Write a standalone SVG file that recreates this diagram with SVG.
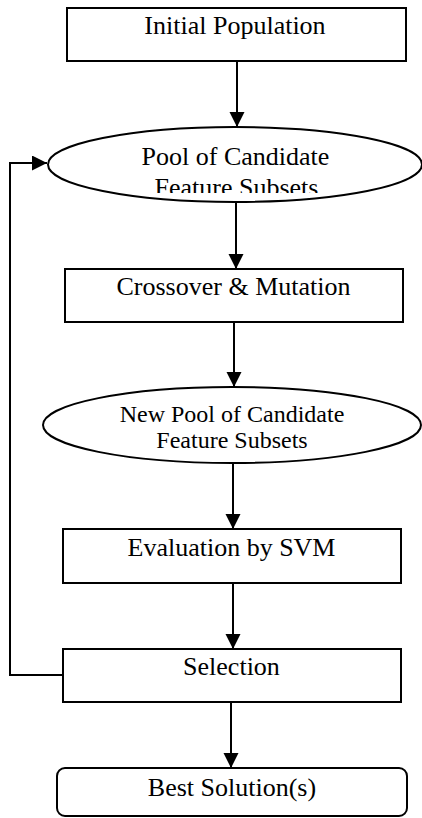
<svg xmlns="http://www.w3.org/2000/svg" width="422" height="818" viewBox="0 0 422 818">
  <style>
    .box { fill: #ffffff; stroke: #000000; stroke-width: 2; }
    .lbl { font-family: "Liberation Serif", "Times New Roman", serif; fill: #000000; text-anchor: middle; }
    .big { font-size: 26px; }
    .small { font-size: 24px; }
    .wire { fill: none; stroke: #000000; stroke-width: 2; }
  </style>
  <defs>
    <marker id="arrow" markerUnits="userSpaceOnUse" markerWidth="16" markerHeight="16" refX="15" refY="7.5" orient="auto">
      <path d="M0,0 L15,7.5 L0,15 Z" fill="#000000"/>
    </marker>
    <clipPath id="poolClip">
      <rect x="0" y="130" width="422" height="63"/>
    </clipPath>
  </defs>

  <g id="connectors">
    <line class="wire" x1="237" y1="61" x2="237" y2="127" marker-end="url(#arrow)"/>
    <line class="wire" x1="236" y1="202" x2="236" y2="269" marker-end="url(#arrow)"/>
    <line class="wire" x1="234" y1="322" x2="234" y2="387" marker-end="url(#arrow)"/>
    <line class="wire" x1="233" y1="463" x2="233" y2="529" marker-end="url(#arrow)"/>
    <line class="wire" x1="233" y1="583" x2="233" y2="649" marker-end="url(#arrow)"/>
    <line class="wire" x1="231" y1="702" x2="231" y2="768" marker-end="url(#arrow)"/>
    <path class="wire" d="M63,675 H10 V163 H47" marker-end="url(#arrow)"/>
  </g>

  <g id="initial-population">
    <rect class="box" x="67" y="8" width="339" height="53"/>
    <text class="lbl big" x="235" y="34">Initial Population</text>
  </g>

  <g id="candidate-pool">
    <ellipse class="box" cx="235" cy="164.5" rx="187" ry="37.5"/>
    <text class="lbl big" x="235.5" y="165">Pool of Candidate</text>
    <text class="lbl big" x="236.5" y="196" clip-path="url(#poolClip)">Feature Subsets</text>
  </g>

  <g id="crossover-mutation">
    <rect class="box" x="65" y="269" width="338" height="53"/>
    <text class="lbl big" x="233.5" y="295">Crossover &amp; Mutation</text>
  </g>

  <g id="new-candidate-pool">
    <ellipse class="box" cx="232" cy="425" rx="189" ry="38"/>
    <text class="lbl small" x="232" y="422">New Pool of Candidate</text>
    <text class="lbl small" x="232" y="448">Feature Subsets</text>
  </g>

  <g id="svm-evaluation">
    <rect class="box" x="63" y="529" width="338" height="54"/>
    <text class="lbl big" x="231.5" y="556">Evaluation by SVM</text>
  </g>

  <g id="selection">
    <rect class="box" x="63" y="649" width="338" height="53"/>
    <text class="lbl big" x="231.5" y="675">Selection</text>
  </g>

  <g id="best-solutions">
    <rect class="box" x="57" y="768" width="350" height="48" rx="8" ry="8"/>
    <text class="lbl big" x="232" y="796">Best Solution(s)</text>
  </g>
</svg>
